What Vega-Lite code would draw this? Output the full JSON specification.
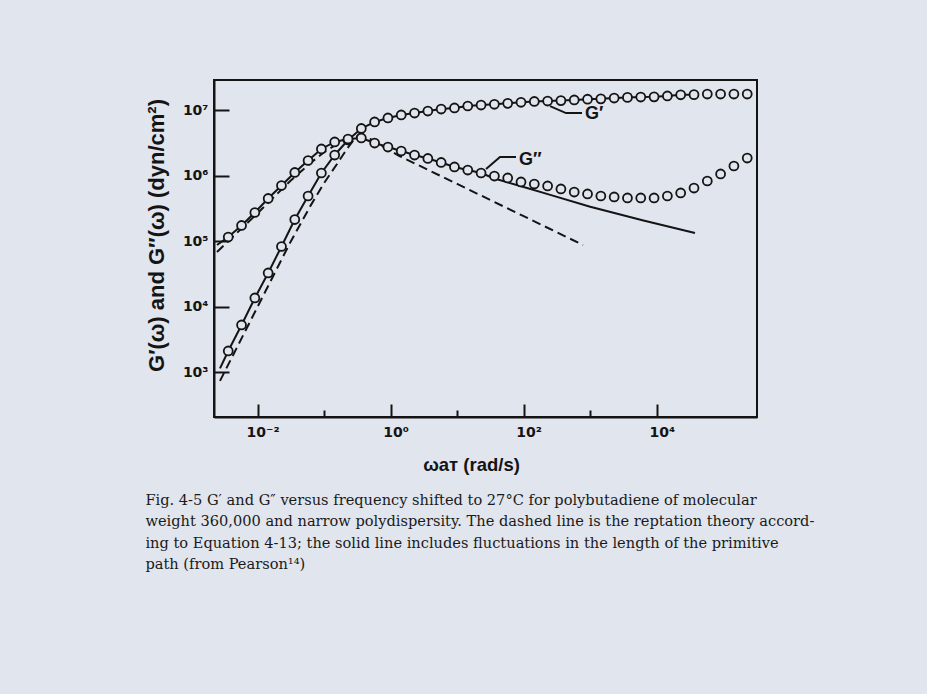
{
  "$schema": "https://vega.github.io/schema/vega-lite/v6.json",
  "width": 543,
  "height": 337,
  "autosize": "none",
  "padding": {"left": 214, "top": 80, "right": 170, "bottom": 277},
  "background": "#e1e5ee",
  "title": {
    "text": [
      "Fig. 4-5  G′ and G″ versus frequency shifted to 27°C for polybutadiene of molecular",
      "weight 360,000 and narrow polydispersity.  The dashed line is the reptation theory accord-",
      "ing to Equation 4-13; the solid line includes fluctuations in the length of the primitive",
      "path (from Pearson¹⁴)"
    ],
    "orient": "bottom",
    "anchor": "start",
    "frame": "bounds",
    "font": "DejaVu Serif",
    "fontSize": 14.6,
    "fontWeight": "normal",
    "color": "#1a1a1a",
    "lineHeight": 21.5,
    "offset": 19
  },
  "data": {
    "values": [
      {"s": "Gp", "x": 0.003631, "y": 2123},
      {"s": "Gp", "x": 0.005754, "y": 5297},
      {"s": "Gp", "x": 0.00912, "y": 13680},
      {"s": "Gp", "x": 0.014454, "y": 32960},
      {"s": "Gp", "x": 0.022909, "y": 83560},
      {"s": "Gp", "x": 0.036308, "y": 215800},
      {"s": "Gp", "x": 0.057544, "y": 493200},
      {"s": "Gp", "x": 0.091201, "y": 1107000},
      {"s": "Gp", "x": 0.14454, "y": 2084000},
      {"s": "Gp", "x": 0.22909, "y": 3532000},
      {"s": "Gp", "x": 0.36308, "y": 5297000},
      {"s": "Gp", "x": 0.57544, "y": 6653000},
      {"s": "Gp", "x": 0.91201, "y": 7656000},
      {"s": "Gp", "x": 1.4454, "y": 8511000},
      {"s": "Gp", "x": 2.2909, "y": 9120000},
      {"s": "Gp", "x": 3.6308, "y": 9772000},
      {"s": "Gp", "x": 5.7544, "y": 10500000},
      {"s": "Gp", "x": 9.1201, "y": 10890000},
      {"s": "Gp", "x": 14.454, "y": 11670000},
      {"s": "Gp", "x": 22.909, "y": 12080000},
      {"s": "Gp", "x": 36.308, "y": 12400000},
      {"s": "Gp", "x": 57.544, "y": 12800000},
      {"s": "Gp", "x": 91.201, "y": 13300000},
      {"s": "Gp", "x": 144.54, "y": 13680000},
      {"s": "Gp", "x": 229.09, "y": 13900000},
      {"s": "Gp", "x": 363.08, "y": 14100000},
      {"s": "Gp", "x": 575.44, "y": 14420000},
      {"s": "Gp", "x": 912.01, "y": 14800000},
      {"s": "Gp", "x": 1445.4, "y": 15000000},
      {"s": "Gp", "x": 2290.9, "y": 15450000},
      {"s": "Gp", "x": 3630.8, "y": 15800000},
      {"s": "Gp", "x": 5754.4, "y": 16000000},
      {"s": "Gp", "x": 9120.1, "y": 16100000},
      {"s": "Gp", "x": 14454, "y": 16600000},
      {"s": "Gp", "x": 22909, "y": 17300000},
      {"s": "Gp", "x": 36308, "y": 17400000},
      {"s": "Gp", "x": 57544, "y": 17780000},
      {"s": "Gp", "x": 91201, "y": 17780000},
      {"s": "Gp", "x": 144540, "y": 17780000},
      {"s": "Gp", "x": 229090, "y": 17780000},

      {"s": "Gpp", "x": 0.003631, "y": 116700},
      {"s": "Gpp", "x": 0.005754, "y": 175000},
      {"s": "Gpp", "x": 0.00912, "y": 276100},
      {"s": "Gpp", "x": 0.014454, "y": 451900},
      {"s": "Gpp", "x": 0.022909, "y": 712900},
      {"s": "Gpp", "x": 0.036308, "y": 1127000},
      {"s": "Gpp", "x": 0.057544, "y": 1718000},
      {"s": "Gpp", "x": 0.091201, "y": 2576000},
      {"s": "Gpp", "x": 0.14454, "y": 3296000},
      {"s": "Gpp", "x": 0.22909, "y": 3656000},
      {"s": "Gpp", "x": 0.36308, "y": 3793000},
      {"s": "Gpp", "x": 0.57544, "y": 3177000},
      {"s": "Gpp", "x": 0.91201, "y": 2761000},
      {"s": "Gpp", "x": 1.4454, "y": 2399000},
      {"s": "Gpp", "x": 2.2909, "y": 2084000},
      {"s": "Gpp", "x": 3.6308, "y": 1845000},
      {"s": "Gpp", "x": 5.7544, "y": 1603000},
      {"s": "Gpp", "x": 9.1201, "y": 1368000},
      {"s": "Gpp", "x": 14.454, "y": 1230000},
      {"s": "Gpp", "x": 22.909, "y": 1107000},
      {"s": "Gpp", "x": 36.308, "y": 995400},
      {"s": "Gpp", "x": 57.544, "y": 929000},
      {"s": "Gpp", "x": 91.201, "y": 807200},
      {"s": "Gpp", "x": 144.54, "y": 751600},
      {"s": "Gpp", "x": 229.09, "y": 701500},
      {"s": "Gpp", "x": 363.08, "y": 631000},
      {"s": "Gpp", "x": 575.44, "y": 567500},
      {"s": "Gpp", "x": 912.01, "y": 529700},
      {"s": "Gpp", "x": 1445.4, "y": 493200},
      {"s": "Gpp", "x": 2290.9, "y": 476400},
      {"s": "Gpp", "x": 3630.8, "y": 460300},
      {"s": "Gpp", "x": 5754.4, "y": 460300},
      {"s": "Gpp", "x": 9120.1, "y": 460300},
      {"s": "Gpp", "x": 14454, "y": 493200},
      {"s": "Gpp", "x": 22909, "y": 548300},
      {"s": "Gpp", "x": 36308, "y": 653100},
      {"s": "Gpp", "x": 57544, "y": 835600},
      {"s": "Gpp", "x": 91201, "y": 1069000},
      {"s": "Gpp", "x": 144540, "y": 1416000},
      {"s": "Gpp", "x": 229090, "y": 1875000},

      {"s": "GpS", "x": 0.002729, "y": 1150},
      {"s": "GpS", "x": 0.003631, "y": 2123},
      {"s": "GpS", "x": 0.005754, "y": 5297},
      {"s": "GpS", "x": 0.00912, "y": 13680},
      {"s": "GpS", "x": 0.014454, "y": 32960},
      {"s": "GpS", "x": 0.022909, "y": 83560},
      {"s": "GpS", "x": 0.036308, "y": 215800},
      {"s": "GpS", "x": 0.057544, "y": 493200},
      {"s": "GpS", "x": 0.091201, "y": 1107000},
      {"s": "GpS", "x": 0.14454, "y": 2084000},
      {"s": "GpS", "x": 0.22909, "y": 3532000},
      {"s": "GpS", "x": 0.36308, "y": 5297000},
      {"s": "GpS", "x": 0.57544, "y": 6653000},
      {"s": "GpS", "x": 0.91201, "y": 7656000},
      {"s": "GpS", "x": 1.4454, "y": 8511000},
      {"s": "GpS", "x": 2.2909, "y": 9120000},
      {"s": "GpS", "x": 3.6308, "y": 9772000},
      {"s": "GpS", "x": 5.7544, "y": 10500000},
      {"s": "GpS", "x": 9.1201, "y": 10890000},
      {"s": "GpS", "x": 14.454, "y": 11670000},
      {"s": "GpS", "x": 22.909, "y": 12080000},
      {"s": "GpS", "x": 36.308, "y": 12400000},
      {"s": "GpS", "x": 57.544, "y": 12800000},
      {"s": "GpS", "x": 91.201, "y": 13300000},
      {"s": "GpS", "x": 144.54, "y": 13680000},
      {"s": "GpS", "x": 229.09, "y": 13900000},
      {"s": "GpS", "x": 363.08, "y": 14100000},
      {"s": "GpS", "x": 575.44, "y": 14420000},
      {"s": "GpS", "x": 912.01, "y": 14800000},
      {"s": "GpS", "x": 1445.4, "y": 15000000},
      {"s": "GpS", "x": 2290.9, "y": 15450000},
      {"s": "GpS", "x": 3630.8, "y": 15800000},
      {"s": "GpS", "x": 5754.4, "y": 16000000},
      {"s": "GpS", "x": 9120.1, "y": 16100000},
      {"s": "GpS", "x": 14454, "y": 16600000},
      {"s": "GpS", "x": 22909, "y": 17300000},
      {"s": "GpS", "x": 36308, "y": 17400000},

      {"s": "GppS", "x": 0.00246, "y": 88100},
      {"s": "GppS", "x": 0.003631, "y": 116700},
      {"s": "GppS", "x": 0.005754, "y": 175000},
      {"s": "GppS", "x": 0.00912, "y": 276100},
      {"s": "GppS", "x": 0.014454, "y": 451900},
      {"s": "GppS", "x": 0.022909, "y": 712900},
      {"s": "GppS", "x": 0.036308, "y": 1127000},
      {"s": "GppS", "x": 0.057544, "y": 1718000},
      {"s": "GppS", "x": 0.091201, "y": 2576000},
      {"s": "GppS", "x": 0.14454, "y": 3296000},
      {"s": "GppS", "x": 0.22909, "y": 3656000},
      {"s": "GppS", "x": 0.36308, "y": 3793000},
      {"s": "GppS", "x": 0.57544, "y": 3177000},
      {"s": "GppS", "x": 0.91201, "y": 2761000},
      {"s": "GppS", "x": 1.4454, "y": 2399000},
      {"s": "GppS", "x": 2.2909, "y": 2084000},
      {"s": "GppS", "x": 3.6308, "y": 1845000},
      {"s": "GppS", "x": 5.7544, "y": 1603000},
      {"s": "GppS", "x": 9.1201, "y": 1368000},
      {"s": "GppS", "x": 14.454, "y": 1230000},
      {"s": "GppS", "x": 22.909, "y": 1107000},
      {"s": "GppS", "x": 36.31, "y": 912000},
      {"s": "GppS", "x": 100, "y": 676100},
      {"s": "GppS", "x": 251.2, "y": 512900},
      {"s": "GppS", "x": 1000, "y": 338800},
      {"s": "GppS", "x": 6310, "y": 208900},
      {"s": "GppS", "x": 37580, "y": 134300},

      {"s": "GpD", "x": 0.002729, "y": 741.3},
      {"s": "GpD", "x": 0.01, "y": 10000},
      {"s": "GpD", "x": 0.03162, "y": 100000},
      {"s": "GpD", "x": 0.0631, "y": 354800},
      {"s": "GpD", "x": 0.1, "y": 776200},
      {"s": "GpD", "x": 0.1585, "y": 1549000},
      {"s": "GpD", "x": 0.2239, "y": 2630000},
      {"s": "GpD", "x": 0.2884, "y": 3715000},
      {"s": "GpD", "x": 0.3548, "y": 4571000},

      {"s": "GppD", "x": 0.00246, "y": 68870},
      {"s": "GppD", "x": 0.01, "y": 269200},
      {"s": "GppD", "x": 0.03162, "y": 851100},
      {"s": "GppD", "x": 0.0631, "y": 1585000},
      {"s": "GppD", "x": 0.1, "y": 2291000},
      {"s": "GppD", "x": 0.1585, "y": 3090000},
      {"s": "GppD", "x": 0.2512, "y": 3715000},
      {"s": "GppD", "x": 0.3548, "y": 3981000},
      {"s": "GppD", "x": 0.5012, "y": 3631000},
      {"s": "GppD", "x": 1.38, "y": 1995000},
      {"s": "GppD", "x": 10, "y": 753400},
      {"s": "GppD", "x": 100, "y": 242700},
      {"s": "GppD", "x": 779.8, "y": 88100},

      {"s": "L1", "x": 248.9, "y": 11640000},
      {"s": "L1", "x": 432.5, "y": 9100000},
      {"s": "L1", "x": 753.4, "y": 9100000},
      {"s": "L2", "x": 27.2, "y": 1274000},
      {"s": "L2", "x": 44.1, "y": 1941000},
      {"s": "L2", "x": 76.7, "y": 1941000},

      {"s": "label", "x": 835.6, "y": 8810000, "t": "G′"},
      {"s": "label", "x": 85.1, "y": 1750000, "t": "G″"}
    ]
  },
  "encoding": {
    "x": {
      "field": "x",
      "type": "quantitative",
      "scale": {"type": "log", "domain": [0.002218, 321300], "nice": false},
      "axis": {
        "values": [0.01, 0.1, 1, 10, 100, 1000, 10000],
        "labelExpr": "datum.value == 0.01 ? '10⁻²' : datum.value == 1 ? '10⁰' : datum.value == 100 ? '10²' : datum.value == 10000 ? '10⁴' : ''",
        "title": "ωaᴛ (rad/s)",
        "titleFontSize": 18.5,
        "titleX": 257,
        "tickSize": {"condition": {"test": "round(log(datum.value)/LN10) % 2 != 0", "value": -7}, "value": -13},
        "labelPadding": 21,
        "labelOffset": 5,
        "titlePadding": 10
      }
    },
    "y": {
      "field": "y",
      "type": "quantitative",
      "scale": {"type": "log", "domain": [208.4, 29110000], "nice": false},
      "axis": {
        "values": [1000, 10000, 100000, 1000000, 10000000],
        "labelExpr": "datum.value == 1000 ? '10³' : datum.value == 10000 ? '10⁴' : datum.value == 100000 ? '10⁵' : datum.value == 1000000 ? '10⁶' : '10⁷'",
        "title": "G′(ω) and G″(ω) (dyn/cm²)",
        "titleFontSize": 22,
        "titleY": 155,
        "tickSize": -15,
        "labelPadding": 21,
        "titlePadding": 14
      }
    }
  },
  "layer": [
    {
      "transform": [{"filter": "datum.s == 'GpS' || datum.s == 'GppS'"}],
      "mark": {"type": "line", "strokeWidth": 2, "color": "#141414"},
      "encoding": {"detail": {"field": "s"}}
    },
    {
      "transform": [{"filter": "datum.s == 'GpD' || datum.s == 'GppD'"}],
      "mark": {"type": "line", "strokeWidth": 2, "color": "#141414", "strokeDash": [9, 5]},
      "encoding": {"detail": {"field": "s"}}
    },
    {
      "transform": [{"filter": "datum.s == 'L1' || datum.s == 'L2'"}],
      "mark": {"type": "line", "strokeWidth": 2, "color": "#141414"},
      "encoding": {"detail": {"field": "s"}}
    },
    {
      "transform": [{"filter": "datum.s == 'Gp' || datum.s == 'Gpp'"}],
      "mark": {"type": "point", "shape": "circle", "filled": true, "fill": "#e1e5ee", "stroke": "#141414", "strokeWidth": 1.8, "size": 80, "opacity": 1}
    },
    {
      "transform": [{"filter": "datum.s == 'label'"}],
      "mark": {"type": "text", "align": "left", "baseline": "middle", "font": "Liberation Sans", "fontWeight": "bold", "fontSize": 18, "color": "#141414"},
      "encoding": {"text": {"field": "t"}}
    }
  ],
  "config": {
    "view": {"stroke": "#141414", "strokeWidth": 2},
    "axis": {
      "grid": false,
      "domainColor": "#141414",
      "domainWidth": 2,
      "tickColor": "#141414",
      "tickWidth": 2,
      "labelFont": "DejaVu Sans",
      "labelFontWeight": "bold",
      "labelFontSize": 14,
      "labelColor": "#141414",
      "labelFlush": false,
      "labelOverlap": false,
      "titleFont": "Liberation Sans",
      "titleFontWeight": "bold",
      "titleColor": "#141414"
    }
  }
}
